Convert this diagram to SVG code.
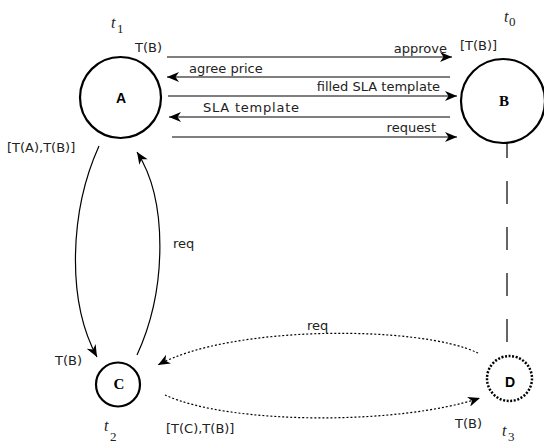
<svg xmlns="http://www.w3.org/2000/svg" width="544" height="445" viewBox="0 0 544 445">
<style>
.lbl{font-family:"DejaVu Sans","Liberation Sans",sans-serif;font-size:13px;fill:#222}
.node{fill:#fff;stroke:#000;stroke-width:2.2}
.nsans{font-family:"Liberation Sans",Arial,sans-serif;font-weight:bold;font-size:14px;fill:#000;text-anchor:middle}
.nserif{font-family:"Liberation Serif","Times New Roman",serif;font-weight:bold;font-size:15px;fill:#000;text-anchor:middle}
.t{font-family:"Liberation Serif","Times New Roman",serif;font-style:italic;font-size:16px;fill:#222}
.sub{font-family:"Liberation Serif","Times New Roman",serif;font-size:13px;fill:#222}
.conn{fill:none;stroke:#000;stroke-width:1.2}
.dot{fill:none;stroke:#000;stroke-width:1.2;stroke-dasharray:2 2}
</style>
<defs>
<marker id="arr" viewBox="0 0 12 10" markerWidth="13" markerHeight="10" refX="12" refY="5" orient="auto" markerUnits="userSpaceOnUse">
<path d="M0,0 L12,5 L0,10 L3.5,5 Z" fill="#000"/>
</marker>
</defs>
<g id="connectors">
<line class="conn" x1="167" y1="57" x2="452" y2="57" marker-end="url(#arr)"/>
<line class="conn" x1="450" y1="77" x2="167" y2="77" marker-end="url(#arr)"/>
<line class="conn" x1="168" y1="96" x2="457" y2="96" marker-end="url(#arr)"/>
<line class="conn" x1="450" y1="117" x2="169" y2="117" marker-end="url(#arr)"/>
<line class="conn" x1="172" y1="137" x2="457" y2="137" marker-end="url(#arr)"/>
<path class="conn" d="M99 146 C70 210 66 300 97 357" marker-end="url(#arr)"/>
<path class="conn" d="M137 355 C167 290 168 200 137 152" marker-end="url(#arr)"/>
<path class="dot" d="M478 353 C420 325 230 325 158 365" marker-end="url(#arr)"/>
<path class="dot" d="M165 395 C230 425 400 425 480 398" marker-end="url(#arr)"/>
<line x1="507" y1="135" x2="507" y2="343" stroke="#000" stroke-width="1.2" stroke-dasharray="23 23"/>
<text class="lbl" x="447" y="53" text-anchor="end">approve</text>
<text class="lbl" x="189" y="73">agree price</text>
<text class="lbl" x="440" y="91" text-anchor="end">filled SLA template</text>
<text class="lbl" x="203" y="112" textLength="96" lengthAdjust="spacing">SLA template</text>
<text class="lbl" x="436" y="132" text-anchor="end">request</text>
<text class="lbl" x="173" y="248">req</text>
<text class="lbl" x="307" y="330">req</text>
</g>
<g id="node-A">
<circle class="node" cx="120.5" cy="97.5" r="40.5"/>
<text class="nsans" x="121" y="103">A</text>
<text class="t" x="111" y="28">t</text><text class="sub" x="117" y="33">1</text>
<text class="lbl" x="135" y="52">T(B)</text>
<text class="lbl" x="7" y="152">[T(A),T(B)]</text>
</g>
<g id="node-B">
<circle class="node" cx="503" cy="101" r="42"/>
<text class="nserif" x="504" y="106">B</text>
<text class="t" x="504" y="22">t</text><text class="sub" x="509" y="26">0</text>
<text class="lbl" x="460" y="50">[T(B)]</text>
</g>
<g id="node-C">
<circle class="node" cx="118" cy="384.5" r="22"/>
<text class="nserif" x="119" y="389">C</text>
<text class="t" x="104" y="431">t</text><text class="sub" x="110" y="441">2</text>
<text class="lbl" x="55" y="365">T(B)</text>
<text class="lbl" x="166" y="433">[T(C),T(B)]</text>
</g>
<g id="node-D">
<circle cx="509.5" cy="378.5" r="22.5" fill="#fff" stroke="#000" stroke-width="2.5" stroke-dasharray="2 1.6"/>
<text class="nsans" x="510" y="387">D</text>
<text class="t" x="502" y="436">t</text><text class="sub" x="508" y="441">3</text>
<text class="lbl" x="455" y="428">T(B)</text>
</g>
</svg>
